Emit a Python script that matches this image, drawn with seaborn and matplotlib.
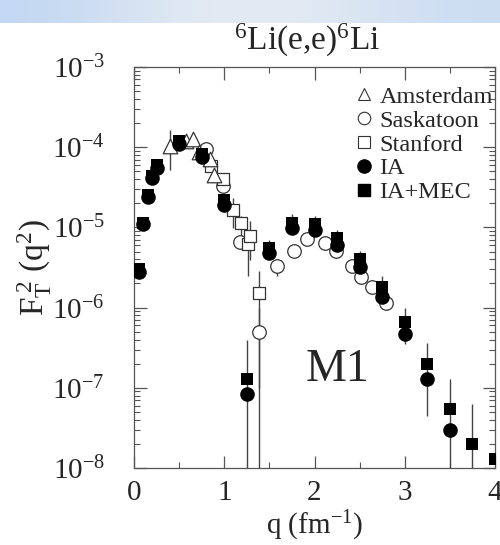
import numpy as np
import matplotlib
matplotlib.use("Agg")
import matplotlib.pyplot as plt
import seaborn as sns
from matplotlib.lines import Line2D
from matplotlib.ticker import LogLocator, MultipleLocator, NullFormatter

sns.set_style("ticks")
plt.rcParams["font.family"] = ["Liberation Serif", "DejaVu Serif"]
plt.rcParams["mathtext.fontset"] = "custom"
plt.rcParams["mathtext.rm"] = "Liberation Serif"
plt.rcParams["mathtext.it"] = "Liberation Serif"

# data
ams_q = [0.40, 0.58, 0.65, 0.72, 0.84, 0.89]
ams_f = [1.03e-4, 1.20e-4, 1.27e-4, 8.8e-5, 7.1e-5, 4.5e-5]
ams_lo = [5.2e-5, 1.20e-4, 1.27e-4, 8.8e-5, 7.1e-5, 4.5e-5]
ams_hi = [1.62e-4, 1.20e-4, 1.27e-4, 8.8e-5, 7.1e-5, 4.5e-5]

sas_q = [0.80, 0.99, 1.17, 1.39, 1.59, 1.77, 1.92, 2.12, 2.24, 2.42, 2.51, 2.64, 2.79]
sas_f = [9.6e-5, 3.3e-5, 6.6e-6, 4.9e-7, 3.3e-6, 5.1e-6, 7.1e-6, 6.4e-6, 5.1e-6,
         3.3e-6, 2.4e-6, 1.8e-6, 1.15e-6]
sas_lo = [8.6e-5, 3.3e-5, 6.6e-6, 1e-9, 2.45e-6, 5.1e-6, 7.1e-6, 6.4e-6, 5.1e-6,
          3.3e-6, 2.4e-6, 1.8e-6, 1.15e-6]
sas_hi = [1.08e-4, 3.3e-5, 6.6e-6, 1.0e-6, 3.7e-6, 5.1e-6, 7.1e-6, 6.4e-6, 5.1e-6,
          3.3e-6, 2.4e-6, 1.8e-6, 1.15e-6]

stan_q = [0.85, 0.99, 1.10, 1.19, 1.265, 1.285, 1.39]
stan_f = [5.8e-5, 4.0e-5, 1.65e-5, 1.15e-5, 6.2e-6, 7.9e-6, 1.5e-6]
stan_lo = [5.8e-5, 4.0e-5, 9.8e-6, 5.4e-6, 2.5e-6, 3.9e-6, 1.0e-7]
stan_hi = [5.8e-5, 4.0e-5, 2.35e-5, 1.4e-5, 6.2e-6, 1.2e-5, 2.9e-6]

ia_q = [0.05, 0.10, 0.15, 0.20, 0.25, 0.50, 0.75, 1.00, 1.25, 1.50, 1.75, 2.00,
        2.25, 2.50, 2.75, 3.00, 3.25, 3.50]
ia_f = [2.8e-6, 1.1e-5, 2.4e-5, 4.1e-5, 5.5e-5, 1.1e-4, 7.6e-5, 1.9e-5, 8.3e-8,
        4.8e-6, 9.8e-6, 9.3e-6, 6.0e-6, 3.2e-6, 1.35e-6, 4.7e-7, 1.3e-7, 3.0e-8]

mec_q = [0.05, 0.10, 0.15, 0.20, 0.25, 0.50, 0.75, 1.00, 1.25, 1.50, 1.75, 2.00,
         2.25, 2.50, 2.75, 3.00, 3.25, 3.50, 3.75, 4.00]
mec_f = [3.0e-6, 1.15e-5, 2.5e-5, 4.4e-5, 6.0e-5, 1.2e-4, 8.2e-5, 2.2e-5, 1.3e-7,
         5.6e-6, 1.15e-5, 1.1e-5, 7.3e-6, 4.0e-6, 1.8e-6, 6.6e-7, 2.0e-7, 5.5e-8,
         2.0e-8, 1.3e-8]
mec_lo = [3.0e-6, 1.15e-5, 2.5e-5, 4.4e-5, 6.0e-5, 1.2e-4, 8.2e-5, 1.6e-5, 1e-9,
          4.0e-6, 9.0e-6, 9.0e-6, 6.0e-6, 3.2e-6, 1.3e-6, 3.5e-7, 4.5e-8, 1e-9,
          1e-9, 1.3e-8]
mec_hi = [3.0e-6, 1.15e-5, 2.5e-5, 4.4e-5, 6.0e-5, 1.2e-4, 8.2e-5, 2.7e-5, 4.0e-7,
          7.0e-6, 1.45e-5, 1.4e-5, 9.2e-6, 5.1e-6, 2.45e-6, 1.0e-6, 3.6e-7, 1.3e-7,
          6.2e-8, 1.3e-8]

fig = plt.figure(figsize=(5.0, 5.45), dpi=100)

# light blue slide band at the top
band = fig.add_axes([0, 0.958, 1, 0.042])
grad = np.array([[0.80, 0.86, 0.93, 0.95, 0.93, 0.88, 0.84]])
band.imshow(grad, aspect="auto", cmap=sns.light_palette("#b8d2f2", as_cmap=True, reverse=True),
            vmin=0.75, vmax=1.0, interpolation="bicubic")
band.axis("off")

ax = fig.add_axes([0.268, 0.1413, 0.722, 0.7358])

ebar = dict(fmt="none", ecolor="#444444", elinewidth=1.0, capsize=0, zorder=1)


def errs(f, lo, hi):
    f = np.array(f)
    return [f - np.array(lo), np.array(hi) - f]


ax.errorbar(ams_q, ams_f, yerr=errs(ams_f, ams_lo, ams_hi), **ebar)
ax.errorbar(sas_q, sas_f, yerr=errs(sas_f, sas_lo, sas_hi), **ebar)
ax.errorbar(stan_q, stan_f, yerr=errs(stan_f, stan_lo, stan_hi), **ebar)
ax.errorbar(mec_q, mec_f, yerr=errs(mec_f, mec_lo, mec_hi), **ebar)

open_kw = dict(facecolor="white", edgecolor="#333333", linewidth=0.9, ax=ax)
sns.scatterplot(x=sas_q, y=sas_f, marker="o", s=95, zorder=3, **open_kw)
sns.scatterplot(x=stan_q, y=stan_f, marker="s", s=85, zorder=3, **open_kw)
sns.scatterplot(x=ams_q, y=ams_f, marker="^", s=110, zorder=3, **open_kw)
sns.scatterplot(x=ia_q, y=ia_f, marker="o", s=110, color="black", edgecolor="black",
                linewidth=0, zorder=4, ax=ax)
sns.scatterplot(x=mec_q, y=mec_f, marker="s", s=80, color="black", edgecolor="black",
                linewidth=0, zorder=5, ax=ax)

ax.set_yscale("log")
ax.set_xlim(0, 4)
ax.set_ylim(1e-8, 1e-3)
ax.xaxis.set_major_locator(MultipleLocator(1))
ax.xaxis.set_minor_locator(MultipleLocator(0.5))
ax.yaxis.set_major_locator(LogLocator(base=10, numticks=10))
ax.yaxis.set_minor_locator(LogLocator(base=10, subs=np.arange(2, 10), numticks=10))
ax.yaxis.set_minor_formatter(NullFormatter())
ax.tick_params(which="both", direction="in", top=True, right=True, color="#555555")
ax.tick_params(which="major", length=9, width=0.9, labelsize=21)
ax.tick_params(axis="y", which="major", pad=21)
ax.tick_params(axis="x", which="major", pad=9)
ax.tick_params(which="minor", length=4.5, width=0.8)
for sp in ax.spines.values():
    sp.set_color("#555555")
    sp.set_linewidth(0.9)

ax.set_xlabel(r"q (fm$^{-1}$)", fontsize=21, labelpad=2)
ax.set_ylabel(r"F$_\mathrm{T}^{\;2}$ (q$^2$)", fontsize=24)
ax.yaxis.set_label_coords(-0.222, 0.5)
fig.text(0.614, 0.925, r"$^{6}$Li(e,e)$^{6}$Li", fontsize=24, ha="center", va="center")
ax.text(2.26, 1.66e-7, "M1", fontsize=33, ha="center", va="center")

handles = [
    Line2D([], [], marker="^", ls="none", mfc="white", mec="#333333", ms=9, mew=0.8),
    Line2D([], [], marker="o", ls="none", mfc="white", mec="#333333", ms=9, mew=0.8),
    Line2D([], [], marker="s", ls="none", mfc="white", mec="#333333", ms=8.5, mew=0.8),
    Line2D([], [], marker="o", ls="none", mfc="black", mec="black", ms=9.5),
    Line2D([], [], marker="s", ls="none", mfc="black", mec="black", ms=8.5),
]
labels = ["Amsterdam", "Saskatoon", "Stanford", "IA", "IA+MEC"]
ax.legend(handles, labels, loc="upper right", bbox_to_anchor=(1.035, 0.99), frameon=False,
          fontsize=17.5, handlelength=0.6, handletextpad=0.35, labelspacing=0.08,
          borderaxespad=0.2)

fig.savefig("out.png", dpi=100)
